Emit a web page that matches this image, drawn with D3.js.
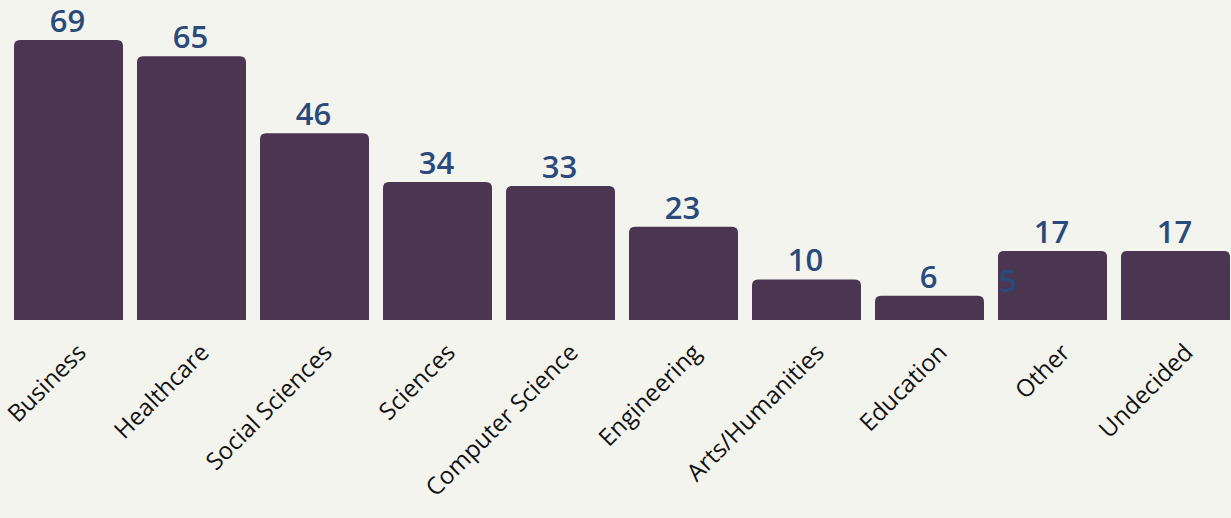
<!DOCTYPE html>
<html><head><meta charset="utf-8">
<script src="https://cdn.jsdelivr.net/npm/d3@7"></script>
<style>
html,body{margin:0;padding:0;background:#f4f4ef;}
svg{display:block;}
</style></head>
<body>
<svg id="chart" width="1231" height="518"></svg>
<script>
const categories = ["Business","Healthcare","Social Sciences","Sciences","Computer Science","Engineering","Arts/Humanities","Education","Other","Undecided"];
const values = [69,65,46,34,33,23,10,6,17,17];
// stray value label visible in the reference (sits on the "Other" bar)
const strayLabelCategory = ["Other"];
const strayLabelValue = [5];

const W = 1231, H = 518;
const svg = d3.select("#chart");
svg.append("rect").attr("width",W).attr("height",H).attr("fill","#f4f4ef");

const x = d3.scaleBand().domain(categories).range([0,1244]).padding(0.1138);
const y = d3.scaleLinear().domain([0,69]).range([320,40]);

const r = 6;
function barPath(x0, w, yTop, yBase){
  const rr = Math.min(r, (yBase-yTop), w/2);
  return `M${x0},${yBase}V${yTop+rr}Q${x0},${yTop} ${x0+rr},${yTop}H${x0+w-rr}Q${x0+w},${yTop} ${x0+w},${yTop+rr}V${yBase}Z`;
}

svg.append("g").selectAll("path").data(categories).join("path")
  .attr("d",(d,i)=>barPath(x(d), x.bandwidth(), y(values[i]), y(0)))
  .attr("fill","#4a3650");

const numF = "'Open Sans','Lato',sans-serif";
const labF = "'Open Sans','Lato',sans-serif";
svg.append("g").selectAll("text").data(categories).join("text")
  .attr("x",d=>x(d)+x.bandwidth()/2-1)
  .attr("y",(d,i)=>y(values[i])-8)
  .attr("text-anchor","middle")
  .attr("font-family",numF).attr("font-weight",600).attr("font-size",31)
  .attr("fill","#2a4a7b")
  .text((d,i)=>values[i]);

svg.append("g").selectAll("text").data(strayLabelCategory).join("text")
  .attr("x",d=>x(d)+1)
  .attr("y",(d,i)=>y(strayLabelValue[i])-8)
  .attr("text-anchor","start")
  .attr("font-family",numF).attr("font-weight",600).attr("font-size",31)
  .attr("fill","#2a4a7b")
  .text((d,i)=>strayLabelValue[i]);

// x axis labels
const xAxis = d3.axisBottom(x).tickSize(0).tickPadding(0);
const gx = svg.append("g").attr("transform",`translate(0,${y(0)})`).call(xAxis);
gx.select(".domain").remove();
gx.selectAll("text")
  .attr("font-family",labF).attr("font-size",24).attr("fill","#111")
  .attr("text-anchor","end")
  .attr("dy","0")
  .attr("transform","translate(19,34) rotate(-45)");
</script>
</body></html>
